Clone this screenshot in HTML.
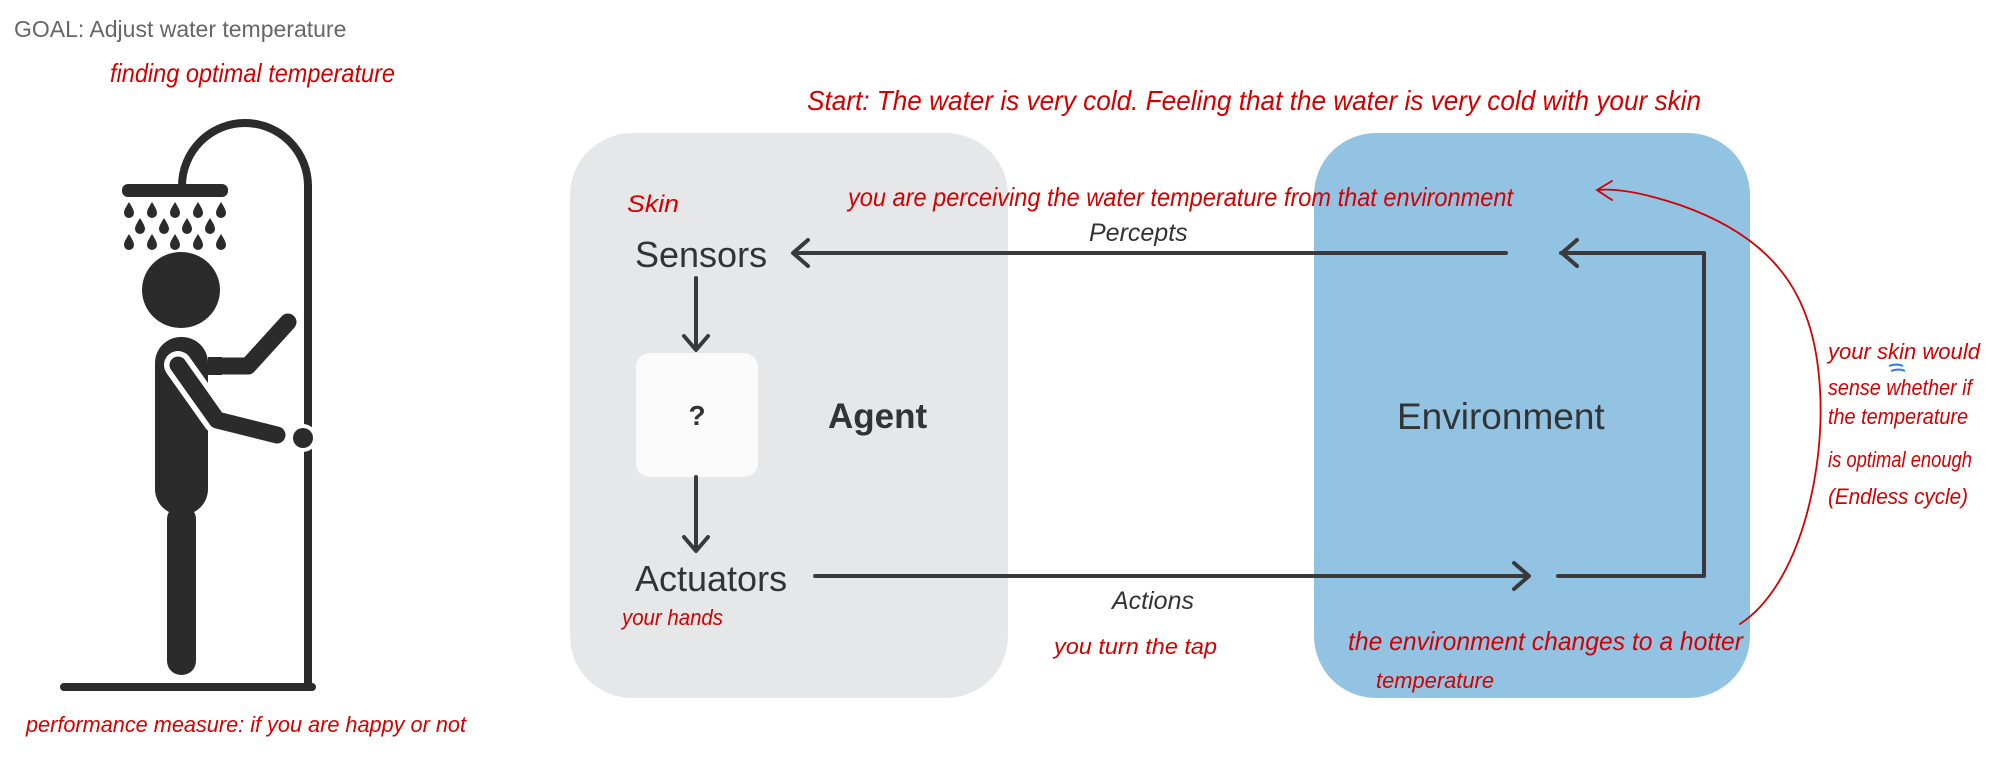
<!DOCTYPE html>
<html><head><meta charset="utf-8"><style>
html,body{margin:0;padding:0;background:#fff;width:2000px;height:759px;overflow:hidden}
svg{display:block}
.h{font-family:"Liberation Sans Narrow","Liberation Sans",sans-serif;fill:#d40000;font-style:italic}
</style></head><body>
<svg width="2000" height="759" viewBox="0 0 2000 759" xmlns="http://www.w3.org/2000/svg">
<defs>
<path id="d" d="M0,-8 C3,-3 5,0 5,3 A5,5 0 0 1 -5,3 C-5,0 -3,-3 0,-8Z" fill="#2b2b2b"/>
</defs>
<text x="14" y="37" font-family="Liberation Sans,sans-serif" font-size="23" fill="#666">GOAL: Adjust water temperature</text>

<!-- shower figure -->
<g fill="#2b2b2b" stroke="none">
<path d="M182,186 A63,63 0 0 1 308,186 L308,688" fill="none" stroke="#2b2b2b" stroke-width="8"/>
<rect x="122" y="184" width="106" height="13" rx="6"/>
<use href="#d" x="129" y="210"/><use href="#d" x="152" y="210"/><use href="#d" x="175" y="210"/><use href="#d" x="198" y="210"/><use href="#d" x="221" y="210"/>
<use href="#d" x="140" y="226"/><use href="#d" x="164" y="226"/><use href="#d" x="187" y="226"/><use href="#d" x="210" y="226"/>
<use href="#d" x="129" y="242"/><use href="#d" x="152" y="242"/><use href="#d" x="175" y="242"/><use href="#d" x="198" y="242"/><use href="#d" x="221" y="242"/>
<ellipse cx="181" cy="290" rx="39" ry="38"/>
<rect x="155" y="337" width="53" height="178" rx="26"/>
<rect x="167" y="505" width="29" height="170" rx="14"/>
<path d="M216,366 L248,366 L288,322" fill="none" stroke="#2b2b2b" stroke-width="17" stroke-linecap="round" stroke-linejoin="round"/>
<rect x="208" y="357" width="14" height="18" fill="#2b2b2b"/>
<path d="M178,365 L217,420 L277,435" fill="none" stroke="#fff" stroke-width="28" stroke-linecap="round" stroke-linejoin="round"/>
<path d="M178,365 L217,420 L277,435" fill="none" stroke="#2b2b2b" stroke-width="17" stroke-linecap="round" stroke-linejoin="round"/>
<circle cx="303" cy="438" r="14" fill="#fff"/>
<circle cx="303" cy="438" r="10"/>
<line x1="64" y1="687" x2="312" y2="687" stroke="#2b2b2b" stroke-width="8" stroke-linecap="round"/>
</g>

<!-- boxes -->
<rect x="570" y="133" width="438" height="565" rx="62" fill="#e6e7e9"/>
<rect x="1314" y="133" width="436" height="565" rx="62" fill="#93c3e2"/>
<rect x="636" y="353" width="122" height="124" rx="14" fill="#fafafa"/>

<g font-family="Liberation Sans,sans-serif" fill="#333">
<text x="635" y="267" font-size="36">Sensors</text>
<text x="635" y="591" font-size="36">Actuators</text>
<text x="697" y="425" font-size="28" font-weight="bold" text-anchor="middle">?</text>
<text x="828" y="428" font-size="35" font-weight="bold">Agent</text>
<text x="1397" y="429" font-size="37">Environment</text>
<text x="1089" y="241" font-size="25" font-style="italic">Percepts</text>
<text x="1112" y="609" font-size="25" font-style="italic">Actions</text>
</g>

<g stroke="#3a3a3a" stroke-width="4" fill="none" stroke-linecap="round" stroke-linejoin="round">
<line x1="794" y1="253" x2="1506" y2="253"/>
<polyline points="808,240 793,253 808,266"/>
<polyline points="1561,253 1704,253 1704,576 1558,576"/>
<polyline points="1577,240 1562,253 1577,266"/>
<line x1="815" y1="576" x2="1528" y2="576"/>
<polyline points="1514,563 1529,576 1514,589"/>
<line x1="696" y1="278" x2="696" y2="349"/>
<polyline points="684,336 696,350 708,336"/>
<line x1="696" y1="477" x2="696" y2="550"/>
<polyline points="684,537 696,551 708,537"/>
</g>

<!-- annotations -->
<g class="h">
<text x="110" y="82" font-size="26" textLength="285" lengthAdjust="spacingAndGlyphs">finding optimal temperature</text>
<text x="807" y="110" font-size="28" textLength="894" lengthAdjust="spacingAndGlyphs">Start:  The water is very cold. Feeling  that the water is very cold with your skin</text>
<text x="627" y="212" font-size="24" textLength="52" lengthAdjust="spacingAndGlyphs">Skin</text>
<text x="848" y="206" font-size="26" textLength="665" lengthAdjust="spacingAndGlyphs">you are perceiving the water temperature from that environment</text>
<text x="622" y="625" font-size="22" textLength="101" lengthAdjust="spacingAndGlyphs">your hands</text>
<text x="1054" y="654" font-size="22" textLength="163" lengthAdjust="spacingAndGlyphs">you turn the tap</text>
<text x="1348" y="650" font-size="26" textLength="395" lengthAdjust="spacingAndGlyphs">the environment changes to a hotter</text>
<text x="1376" y="688" font-size="22" textLength="118" lengthAdjust="spacingAndGlyphs">temperature</text>
<text x="26" y="732" font-size="22" textLength="440" lengthAdjust="spacingAndGlyphs">performance measure: if you are happy or not</text>
<text x="1828" y="359" font-size="22" textLength="152" lengthAdjust="spacingAndGlyphs">your skin would</text>
<text x="1828" y="395" font-size="22" textLength="144" lengthAdjust="spacingAndGlyphs">sense whether if</text>
<text x="1828" y="424" font-size="22" textLength="140" lengthAdjust="spacingAndGlyphs">the temperature</text>
<text x="1828" y="467" font-size="22" textLength="144" lengthAdjust="spacingAndGlyphs">is optimal enough</text>
<text x="1828" y="504" font-size="22" textLength="140" lengthAdjust="spacingAndGlyphs">(Endless cycle)</text>
</g>
<path d="M1889,366 q8,-3 14,0 M1891,371 q8,-3 14,0" stroke="#2a7de1" stroke-width="2" fill="none"/>
<g stroke="#d40000" stroke-width="1.8" fill="none" stroke-linecap="round">
<path d="M1740,624 C1800,585 1825,470 1820,390 C1815,300 1780,240 1680,205 C1650,195 1620,188 1598,190"/>
<path d="M1612,181 L1597,190 L1612,200"/>
</g>
</svg>
</body></html>
